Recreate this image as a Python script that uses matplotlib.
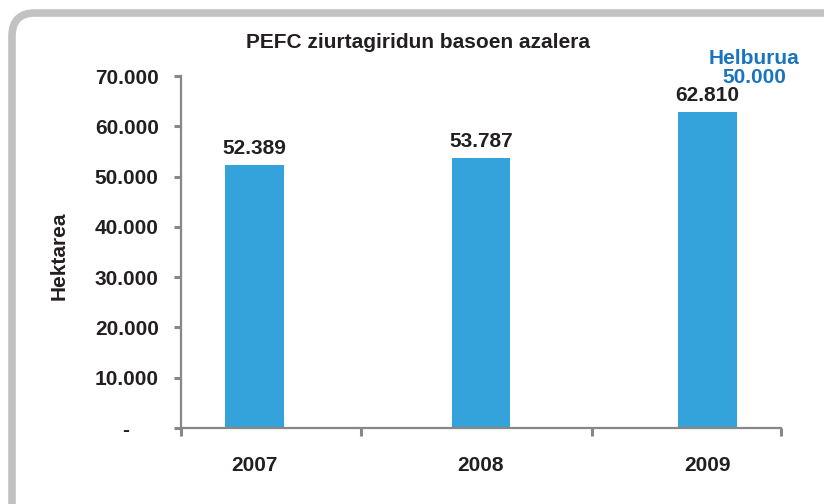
import numpy as np
import matplotlib
matplotlib.use("Agg")
import matplotlib.pyplot as plt
from matplotlib.patches import FancyBboxPatch

# data
years = ['2007', '2008', '2009']
hectares = [52389, 53787, 62810]
value_labels = ['52.389', '53.787', '62.810']
yticks = [0, 10000, 20000, 30000, 40000, 50000, 60000, 70000]
ytick_labels = ['-     ', '10.000', '20.000', '30.000', '40.000', '50.000', '60.000', '70.000']
title = 'PEFC ziurtagiridun basoen azalera'
target_text = 'Helburua\n50.000'

plt.rcParams['font.family'] = ['Liberation Sans', 'DejaVu Sans']
plt.rcParams['font.weight'] = 'bold'
txt = '#231f20'
grey = '#878787'
blue = '#34a3dc'
fs = 15

fig = plt.figure(figsize=(8.24, 5.04), dpi=100)

# rounded frame around everything
frame = FancyBboxPatch((12 / 824, 0.0 - 0.05), 1.1, (504 - 13) / 504 + 0.05,
                       boxstyle='round,pad=0,rounding_size=0.028',
                       transform=fig.transFigure, fill=False,
                       edgecolor='#c1c2c4', linewidth=5.5, clip_on=False,
                       mutation_aspect=824 / 504)
fig.patches.append(frame)

ax = fig.add_axes([181 / 824, 76 / 504, 600 / 824, 352 / 504])
x = np.arange(len(years))
ax.bar(x, hectares, width=0.26, color=blue, zorder=2)
for xi, h, lab in zip(x, hectares, value_labels):
    ax.annotate(lab, (xi, h), xytext=(0, 5), textcoords='offset points',
                ha='center', va='bottom', fontsize=fs, fontweight='bold', color=txt)

ax.set_xlim(-0.325, 2.325)
ax.set_ylim(0, 70000)
ax.set_yticks(yticks)
ax.set_yticklabels(ytick_labels)
ax.set_xticks(x)
ax.set_xticklabels(years)
ax.set_xticks([-0.325, 0.47, 1.49, 2.325], minor=True)

for s in ['top', 'right']:
    ax.spines[s].set_visible(False)
for s in ['left', 'bottom']:
    ax.spines[s].set_color(grey)
    ax.spines[s].set_linewidth(1.6)

ax.tick_params(axis='y', direction='out', length=5, width=2.2, color=grey,
               pad=11, labelsize=fs, labelcolor=txt)
ax.tick_params(axis='x', which='major', length=0, pad=20, labelsize=fs, labelcolor=txt)
ax.tick_params(axis='x', which='minor', direction='out', length=6, width=2.2, color=grey)

ax.set_ylabel('Hektarea', fontsize=fs, fontweight='bold', color=txt, labelpad=0)
ax.yaxis.set_label_coords(-0.187, 0.49)

fig.text(418.5 / 824, 1 - 43 / 504, title, ha='center', va='center',
         fontsize=fs, fontweight='bold', color=txt)
fig.text(754 / 824, 1 - 68 / 504, target_text, ha='center', va='center',
         fontsize=fs, fontweight='bold', color='#1a75bc', linespacing=1.05)

fig.savefig('out.png', dpi=100)
